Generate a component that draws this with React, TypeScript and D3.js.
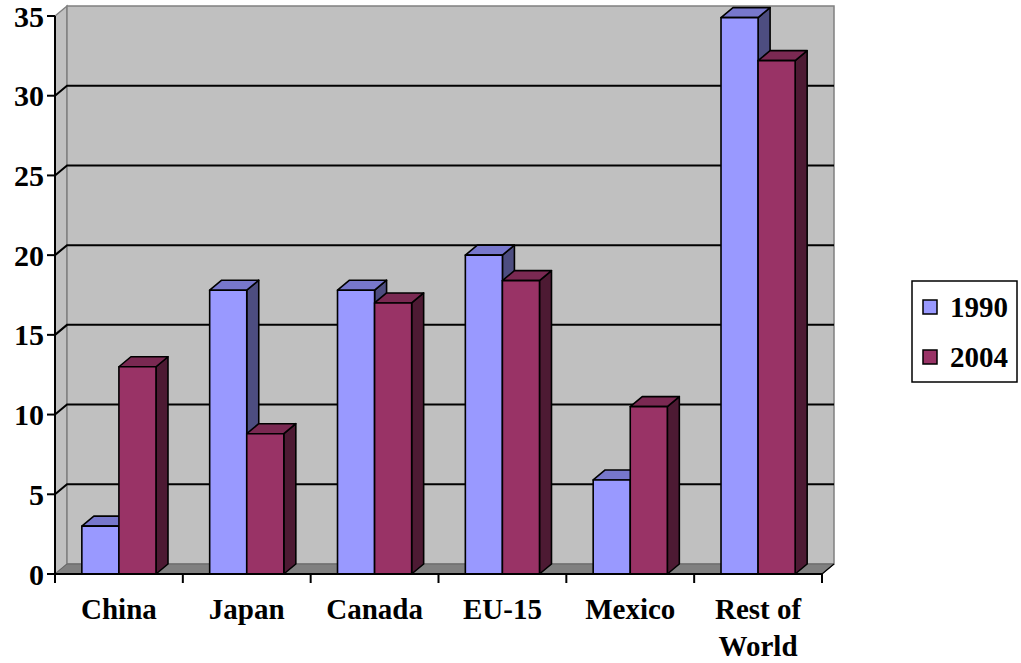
import React from "react";
import * as d3 from "d3";

const categories = ["China", "Japan", "Canada", "EU-15", "Mexico", "Rest of World"];
const seriesNames = ["1990", "2004"];
const values1990 = [3.0, 17.8, 17.8, 20.0, 5.9, 34.9];
const values2004 = [13.0, 8.8, 17.0, 18.4, 10.5, 32.2];
const yTicks = [0, 5, 10, 15, 20, 25, 30, 35];

const W = 1021, H = 663;
const DX = 12, DY = -10;
const colors = [
  { front: "#9999FF", top: "#7777CC", side: "#4D4D80" },
  { front: "#993366", top: "#7A2952", side: "#4D1A33" },
];

export default function App() {
  const y = d3.scaleLinear().domain([0, 35]).range([574, 16]);
  const x = d3.scaleBand<string>().domain(categories).range([55, 822]).paddingInner(0.42).paddingOuter(0.21);
  const xs = d3.scaleBand<string>().domain(seriesNames).range([0, x.bandwidth()]);
  const step = x.step();
  const left = 55, right = 822, y0 = y(0), yTop = y(35);
  const series = [values1990, values2004];
  const font = "'Liberation Serif', 'Times New Roman', serif";

  const bars: React.ReactNode[] = [];
  categories.forEach((c, i) => {
    series.forEach((vals, s) => {
      const bx = (x(c) as number) + (xs(seriesNames[s]) as number);
      const w = xs.bandwidth();
      const yv = y(vals[i]);
      const col = colors[s];
      bars.push(
        <g key={c + s} stroke="#000" strokeWidth={1.6} strokeLinejoin="round">
          <polygon fill={col.side} points={`${bx + w},${yv} ${bx + w + DX},${yv + DY} ${bx + w + DX},${y0 + DY} ${bx + w},${y0}`} />
          <polygon fill={col.top} points={`${bx},${yv} ${bx + w},${yv} ${bx + w + DX},${yv + DY} ${bx + DX},${yv + DY}`} />
          <rect x={bx} y={yv} width={w} height={y0 - yv} fill={col.front} />
        </g>
      );
    });
  });

  return (
    <svg width={W} height={H} style={{ position: "absolute", left: 0, top: 0, background: "#fff" }} fontFamily={font}>
      <polygon points={`${left},${y0} ${left},${yTop} ${left + DX},${yTop + DY} ${left + DX},${y0 + DY}`} fill="#C0C0C0" stroke="#808080" strokeWidth={1.5} />
      <rect x={left + DX} y={yTop + DY} width={right - left} height={y0 - yTop} fill="#C0C0C0" stroke="#808080" strokeWidth={1.5} />
      <polygon points={`${left},${y0} ${right},${y0} ${right + DX},${y0 + DY} ${left + DX},${y0 + DY}`} fill="#808080" stroke="#666" strokeWidth={1} />
      {yTicks.filter(t => t > 0 && t < 35).map(t => (
        <g key={t} stroke="#000" strokeWidth={2} fill="none">
          <polyline points={`${left},${y(t)} ${left + DX},${y(t) + DY} ${right + DX},${y(t) + DY}`} />
        </g>
      ))}
      {bars}
      <line x1={left} y1={yTop} x2={left} y2={y0} stroke="#000" strokeWidth={2} />
      <line x1={left} y1={y0} x2={right} y2={y0} stroke="#000" strokeWidth={2} />
      <line x1={right} y1={y0} x2={right + DX} y2={y0 + DY} stroke="#000" strokeWidth={1.2} />
      {yTicks.map(t => (
        <g key={t}>
          <line x1={left - 8} x2={left} y1={y(t)} y2={y(t)} stroke="#000" strokeWidth={2} />
          <text x={left - 11} y={y(t)} dy="0.35em" textAnchor="end" fontSize={30} fontWeight="bold">{t}</text>
        </g>
      ))}
      {d3.range(categories.length + 1).map(i => (
        <line key={i} x1={left + i * step} x2={left + i * step} y1={y0} y2={y0 + 9} stroke="#000" strokeWidth={2} />
      ))}
      {categories.map(c => {
        const cx = (x(c) as number) + x.bandwidth() / 2;
        const lines = c === "Rest of World" ? ["Rest of", "World"] : [c];
        return (
          <text key={c} x={cx} y={619} textAnchor="middle" fontSize={29} fontWeight="bold">
            {lines.map((l, k) => (
              <tspan key={k} x={cx} dy={k === 0 ? 0 : 37}>{l}</tspan>
            ))}
          </text>
        );
      })}
      <rect x={912} y={281} width={105} height={101} fill="#fff" stroke="#000" strokeWidth={1.5} />
      {seriesNames.map((s, k) => (
        <g key={s}>
          <rect x={923} y={300 + k * 50} width={14} height={14} fill={colors[k].front} stroke="#000" strokeWidth={1.5} />
          <text x={950} y={307 + k * 50} dy="0.35em" fontSize={29} fontWeight="bold">{s}</text>
        </g>
      ))}
    </svg>
  );
}
